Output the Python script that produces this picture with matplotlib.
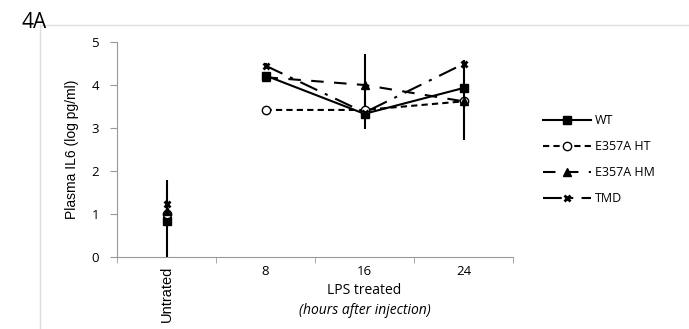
import numpy as np
import matplotlib.pyplot as plt
from matplotlib.lines import Line2D
from matplotlib.ticker import FixedLocator

# categories on the x axis
categories = ["Untrated", "8", "16", "24"]

# plasma IL6 (log pg/ml), untreated point first, then 8/16/24 h after LPS
wt = [0.84, 4.22, 3.33, 3.93]
e357a_ht = [1.00, 3.42, 3.42, 3.62]
e357a_hm = [1.08, 4.18, 4.00, 3.62]
tmd = [1.24, 4.45, 3.36, 4.49]

wt_err = [0.95, 0.05, 0.35, 0.10]
ht_err = [0.10, 0.03, 0.10, 0.90]
hm_err = [0.10, 0.05, 0.72, 0.10]
tmd_err = [0.10, 0.07, 0.10, 0.09]

series = [
    ("WT", wt, wt_err, dict(marker="s", ms=6, mfc="black", ls="-")),
    ("E357A HT", e357a_ht, ht_err, dict(marker="o", ms=6, mfc="white", ls=(0, (3, 2)))),
    ("E357A HM", e357a_hm, hm_err, dict(marker="^", ms=6, mfc="black", ls=(0, (6, 5)))),
    ("TMD", tmd, tmd_err, dict(marker="x", ms=5, mew=2, mfc="black", ls=(0, (9, 4, 1.5, 4)))),
]

fig = plt.figure(figsize=(6.89, 3.29), dpi=100)
ax = fig.add_axes([117 / 689, 1 - 257 / 329, 396 / 689, 215 / 329])

x = np.arange(len(categories))
handles = []
for name, vals, errs, style in series:
    ls = style.pop("ls")
    # untreated point is not joined to the LPS points
    ax.errorbar(x[:1], vals[:1], yerr=errs[:1], color="black", ecolor="black",
                elinewidth=1.5, capsize=0, ls="none", mec="black", **style, zorder=3)
    ax.errorbar(x[1:], vals[1:], yerr=errs[1:], color="black", ecolor="black",
                elinewidth=1.5, capsize=0, ls=ls, lw=1.5, mec="black", **style, zorder=3)
    handles.append(Line2D([], [], color="black", lw=1.5, ls=ls, mec="black", **style))

ax.set_xlim(-0.5, 3.5)
ax.set_ylim(0, 5)
ax.set_yticks(range(6))
ax.set_xticks(x)
ax.set_xticklabels(categories, family="Open Sans", fontsize=9.5)
ax.xaxis.set_minor_locator(FixedLocator(np.arange(-0.5, 4, 1)))
ax.tick_params(axis="x", which="major", length=0, pad=6)
ax.tick_params(axis="x", which="minor", length=4, color="#999999")
ax.tick_params(axis="y", length=5, color="#999999", pad=8)
for lab in ax.get_yticklabels():
    lab.set_family("Open Sans")
    lab.set_fontsize(9.5)
xl = ax.get_xticklabels()
xl[0].set_rotation(90)
xl[0].set_family("Liberation Sans")
xl[0].set_fontsize(10.5)

for s in ["top", "right"]:
    ax.spines[s].set_visible(False)
for s in ["left", "bottom"]:
    ax.spines[s].set_color("#999999")

ax.set_ylabel("Plasma IL6 (log pg/ml)", family="Liberation Sans", fontsize=10, labelpad=9)

tr = ax.get_xaxis_transform()
ax.text(2, -0.155, "LPS treated", transform=tr, ha="center", va="center",
        family="Open Sans", fontsize=10)
ax.text(2, -0.25, "(hours after injection)", transform=tr, ha="center", va="center",
        family="Open Sans", style="italic", fontsize=10)

fig.legend(handles, [s[0] for s in series], loc="upper left",
           bbox_to_anchor=(543 / 689, 1 - 114 / 329), frameon=False,
           prop={"family": "Open Sans", "size": 9}, handlelength=3.8,
           handletextpad=0.35, labelspacing=1.05, borderpad=0, borderaxespad=0)

# light frame around the panel
fig.add_artist(Line2D([40 / 689, 1], [1 - 25 / 329, 1 - 25 / 329], color="#dddddd", lw=1))
fig.add_artist(Line2D([40 / 689, 40 / 689], [0, 1 - 25 / 329], color="#dddddd", lw=1))
fig.text(22 / 689, 1 - 23 / 329, "4A", family="Open Sans", fontsize=15, va="center", ha="left")

fig.savefig("out.png", dpi=100)
